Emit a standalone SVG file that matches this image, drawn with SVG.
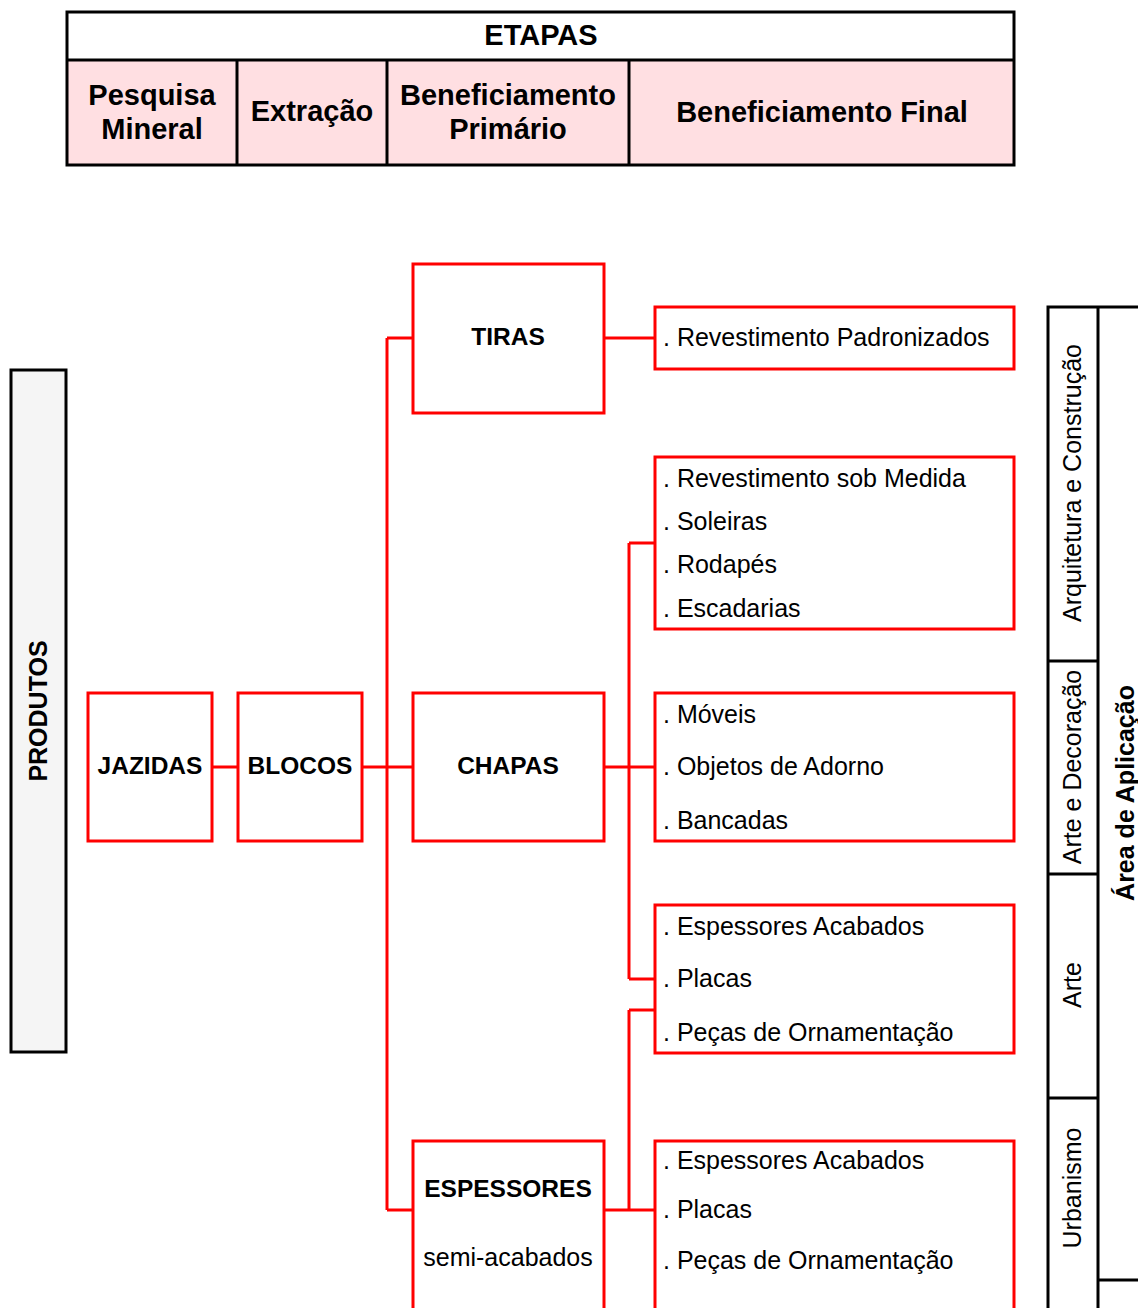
<svg xmlns="http://www.w3.org/2000/svg" width="1138" height="1308" viewBox="0 0 1138 1308">
<style>
.blk{fill:none;stroke:#000;stroke-width:3}
.node{fill:#fff;stroke:#ff0000;stroke-width:3}
.con{fill:none;stroke:#ff0000;stroke-width:3}
text{font-family:"Liberation Sans",Arial,sans-serif;fill:#000;dominant-baseline:central}
.h{font-size:29px;font-weight:bold;text-anchor:middle}
.b{font-size:24.5px;font-weight:bold;text-anchor:middle}
.n{font-size:25px}
.nc{font-size:25px;text-anchor:middle}
.r{font-size:25px;text-anchor:middle}
.rb{font-size:25px;font-weight:bold;text-anchor:middle}
</style>
<rect width="1138" height="1308" fill="#fff"/>

<g id="etapas">
<rect x="67" y="60" width="947" height="105" fill="#ffdfe2"/>
<rect x="67" y="12" width="947" height="153" class="blk"/>
<line x1="67" y1="60" x2="1014" y2="60" class="blk"/>
<line x1="237" y1="60" x2="237" y2="165" class="blk"/>
<line x1="387" y1="60" x2="387" y2="165" class="blk"/>
<line x1="629" y1="60" x2="629" y2="165" class="blk"/>
<text x="541" y="35" class="h">ETAPAS</text>
<text x="152" y="95" class="h">Pesquisa</text>
<text x="152" y="129" class="h">Mineral</text>
<text x="312" y="111" class="h">Extração</text>
<text x="508" y="95" class="h">Beneficiamento</text>
<text x="508" y="129" class="h">Primário</text>
<text x="822" y="112" class="h">Beneficiamento Final</text>
</g>

<g id="produtos">
<rect x="11" y="370" width="55" height="682" fill="#f5f5f5" stroke="#000" stroke-width="3"/>
<text class="rb" transform="translate(38,711) rotate(-90)">PRODUTOS</text>
</g>

<g id="connectors">
<path class="con" d="M212 767H237 M362 767H413 M387 338V1210 M387 338H413 M387 1210H413 M604 338H655 M604 767H655 M629 543V979 M629 543H655 M629 979H655 M604 1210H655 M629 1010V1210 M629 1010H655"/>
</g>

<g id="jazidas">
<rect x="88" y="693" width="124" height="148" class="node"/>
<text x="150" y="765" class="b">JAZIDAS</text>
</g>
<g id="blocos">
<rect x="238" y="693" width="124" height="148" class="node"/>
<text x="300" y="765" class="b">BLOCOS</text>
</g>
<g id="tiras">
<rect x="413" y="264" width="191" height="149" class="node"/>
<text x="508" y="336" class="b">TIRAS</text>
</g>
<g id="chapas">
<rect x="413" y="693" width="191" height="148" class="node"/>
<text x="508" y="765" class="b">CHAPAS</text>
</g>
<g id="espessores">
<rect x="413" y="1141" width="191" height="200" class="node"/>
<text x="508" y="1188" class="b">ESPESSORES</text>
<text x="508" y="1257" class="nc">semi-acabados</text>
</g>

<g id="box1">
<rect x="655" y="307" width="359" height="62" class="node"/>
<text x="663" y="337" class="n">. Revestimento Padronizados</text>
</g>
<g id="box2">
<rect x="655" y="457" width="359" height="172" class="node"/>
<text x="663" y="478" class="n">. Revestimento sob Medida</text>
<text x="663" y="521" class="n">. Soleiras</text>
<text x="663" y="564" class="n">. Rodapés</text>
<text x="663" y="608" class="n">. Escadarias</text>
</g>
<g id="box3">
<rect x="655" y="693" width="359" height="148" class="node"/>
<text x="663" y="714" class="n">. Móveis</text>
<text x="663" y="766" class="n">. Objetos de Adorno</text>
<text x="663" y="820" class="n">. Bancadas</text>
</g>
<g id="box4">
<rect x="655" y="905" width="359" height="148" class="node"/>
<text x="663" y="926" class="n">. Espessores Acabados</text>
<text x="663" y="978" class="n">. Placas</text>
<text x="663" y="1032" class="n">. Peças de Ornamentação</text>
</g>
<g id="box5">
<rect x="655" y="1141" width="359" height="200" class="node"/>
<text x="663" y="1160" class="n">. Espessores Acabados</text>
<text x="663" y="1209" class="n">. Placas</text>
<text x="663" y="1260" class="n">. Peças de Ornamentação</text>
</g>

<g id="area">
<path class="blk" d="M1048 1308V307H1140 M1098 307V1308 M1048 661H1098 M1048 874H1098 M1048 1098H1098 M1098 1280H1140"/>
<text class="r" transform="translate(1072,483) rotate(-90)">Arquitetura e Construção</text>
<text class="r" transform="translate(1072,767) rotate(-90)">Arte e Decoração</text>
<text class="r" transform="translate(1072,985) rotate(-90)">Arte</text>
<text class="r" transform="translate(1072,1188) rotate(-90)">Urbanismo</text>
<text class="rb" transform="translate(1125,793) rotate(-90)">Área de Aplicação</text>
</g>
</svg>
